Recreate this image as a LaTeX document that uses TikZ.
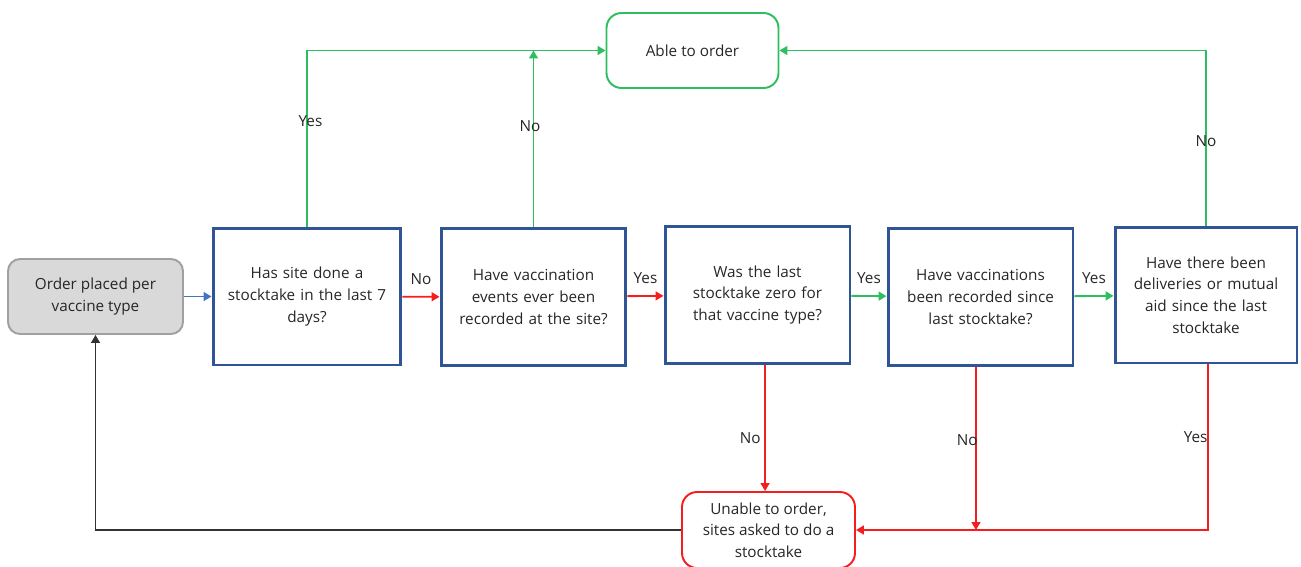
\documentclass[tikz,border=0pt]{standalone}
\usepackage{fontspec}
\setmainfont{Open Sans}
\usetikzlibrary{arrows.meta}
\definecolor{qblue}{HTML}{2F5597}
\definecolor{lineblue}{HTML}{4472C4}
\definecolor{okgreen}{HTML}{2DBE60}
\definecolor{nored}{HTML}{F51E1E}
\definecolor{startgray}{HTML}{D9D9D9}
\definecolor{startedge}{HTML}{A0A0A0}
\definecolor{inkgray}{HTML}{262626}

\begin{document}
\begin{tikzpicture}[x=0.02cm,y=-0.02cm,
	every node/.style={font=\fontsize{8.7}{12.3}\selectfont,text=inkgray},
	question/.style={draw=qblue,line width=1.7pt,minimum width=3.7cm,minimum height=2.74cm,align=center,text width=3.3cm},
	endbox/.style={rounded corners=0.3cm,line width=1.1pt,minimum width=3.44cm,minimum height=1.5cm,align=center},
	arr/.style={line width=1.05pt,-{Triangle[length=4.5pt,width=5pt]}},
	lbl/.style={inner sep=1pt}]
	%\draw[help lines] (0,0) grid[step=50] (1301,566);
	\useasboundingbox (0,0) rectangle (1301,566);

	%BOXES
	\node[endbox,draw=startedge,fill=startgray,minimum width=3.5cm,rounded corners=0.24cm] (order) at (95.5,296.5) {Order placed per\\vaccine type};
	\node[question,minimum width=3.76cm] (q1) at (307,296.5) {Has site done a\\stocktake in the last 7\\days?};
	\node[question] (q2) at (533.5,297) {Have vaccination\\events ever been\\recorded at the site?};
	\node[question] (q3) at (757.5,295) {Was the last\\stocktake zero for\\that vaccine type?};
	\node[question] (q4) at (980.5,297) {Have vaccinations\\been recorded since\\last stocktake?};
	\node[question,minimum width=3.64cm,minimum height=2.72cm] (q5) at (1206,295) {Have there been\\deliveries or mutual\\aid since the last\\stocktake};
	\node[endbox,draw=okgreen] (able) at (692.5,50.5) {Able to order};
	\node[endbox,draw=nored,minimum width=3.46cm,minimum height=1.52cm] (unable) at (768.5,530) {Unable to order,\\sites asked to do a\\stocktake};

	%ALONG THE ROW
	\draw[arr,lineblue] (order) -- (q1);
	\draw[arr,nored] (q1) -- node[above,yshift=3pt]{No} (q2);
	\draw[arr,nored] (q2) -- node[above,yshift=3pt]{Yes} (q3);
	\draw[arr,okgreen] (q3) -- node[above,yshift=3pt]{Yes} (q4);
	\draw[arr,okgreen] (q4) -- node[above,yshift=3pt]{Yes} (q5);

	%UP TO ABLE
	\draw[arr,okgreen] (q1.north) |- node[lbl,pos=0.3,xshift=2pt]{Yes} (able.west);
	\draw[arr,okgreen] (q2.north) -- node[lbl,pos=0.57,xshift=-2pt]{No} (q2.north |- able.west);
	\draw[arr,okgreen] (q5.north) |- node[lbl,pos=0.24]{No} (able.east);

	%DOWN TO UNABLE
	\draw[arr,nored] ([xshift=4.3pt]q3.south) -- node[lbl,pos=0.58,anchor=east,xshift=-1pt]{No} ([xshift=4.3pt]q3.south |- unable.north);
	\draw[arr,nored] ([xshift=-2.6pt]q4.south) -- node[lbl,pos=0.45,xshift=-5pt]{No} ([xshift=-2.6pt]q4.south |- unable.east);
	\draw[arr,nored] ([xshift=1.1pt]q5.south) |- node[lbl,pos=0.22,xshift=-7pt]{Yes} (unable.east);

	%BACK TO START
	\draw[arr,black!80] (unable.west) -| (order.south);
\end{tikzpicture}
\end{document}
